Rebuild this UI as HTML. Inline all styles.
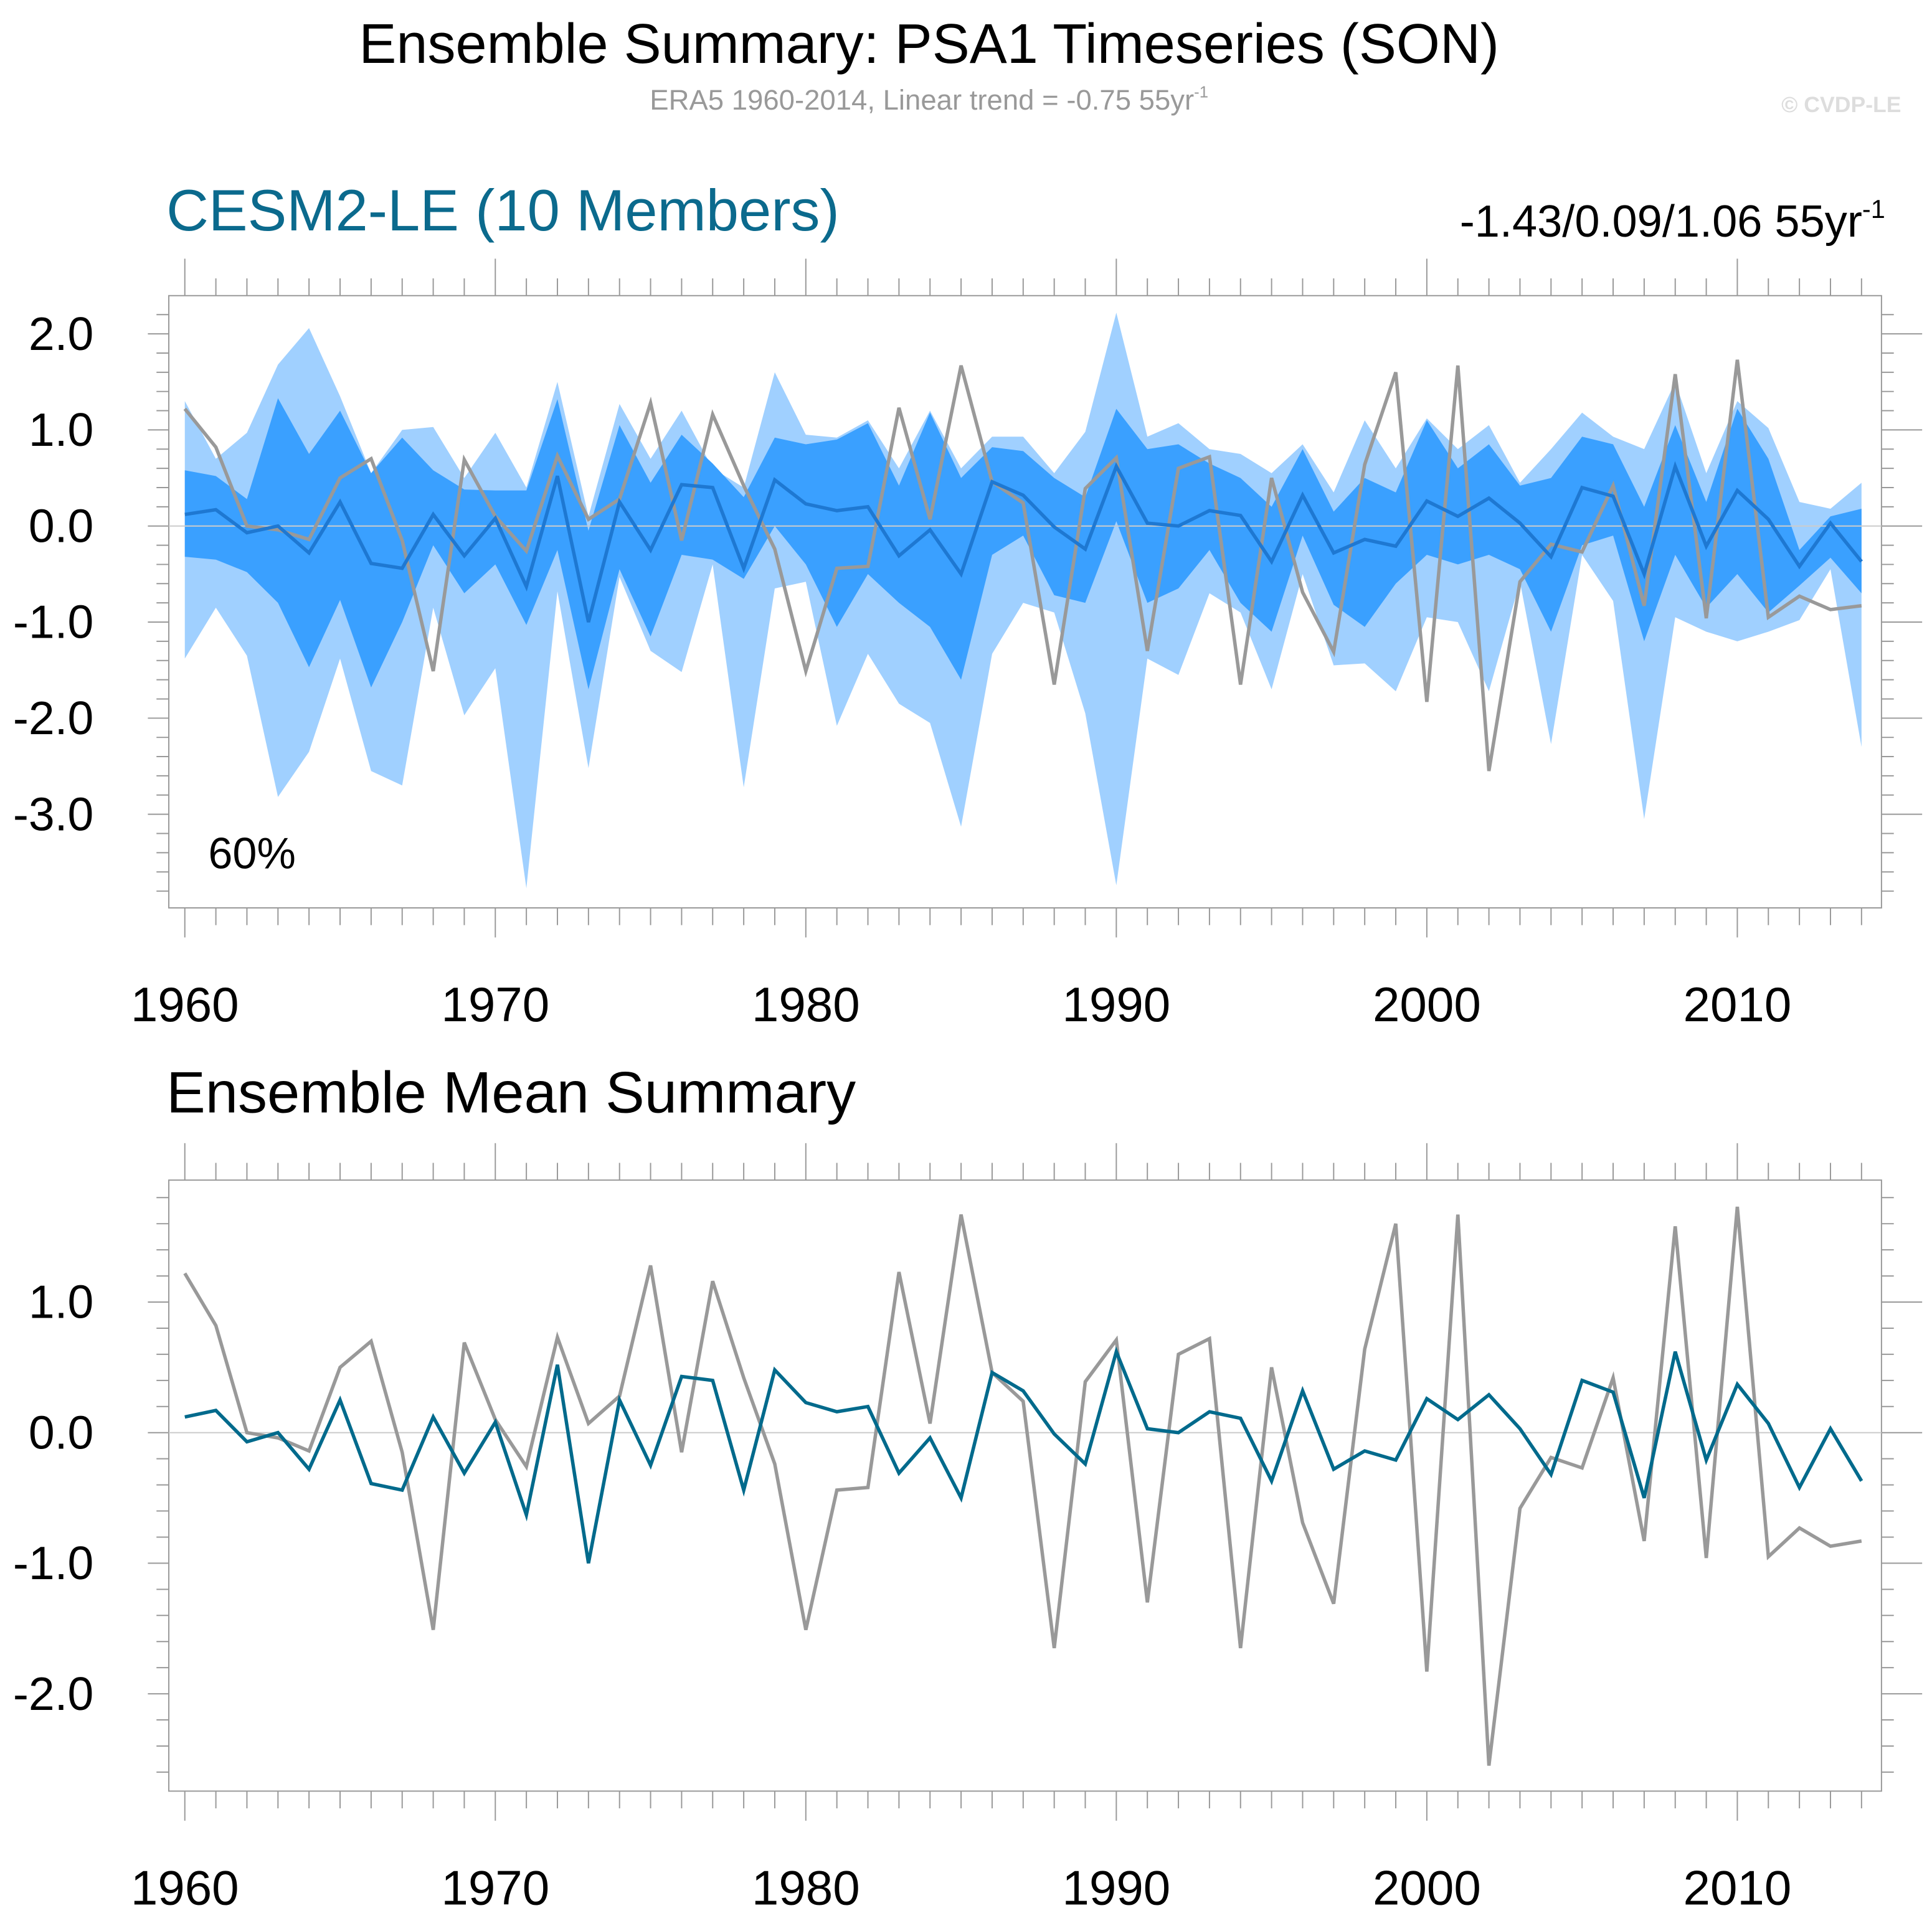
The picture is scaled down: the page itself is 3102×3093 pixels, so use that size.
<!DOCTYPE html>
<html><head><meta charset="utf-8"><style>
html,body{margin:0;padding:0;background:#fff}
svg{display:block;font-family:"Liberation Sans",sans-serif}
</style></head><body>
<svg id="chart" width="3102" height="3093" viewBox="0 0 1568 1563.5" preserveAspectRatio="none" xmlns="http://www.w3.org/2000/svg">
<text x="754" y="51" font-size="45.5" text-anchor="middle" fill="#000">Ensemble Summary: PSA1 Timeseries (SON)</text>
<text x="754" y="89" font-size="23" text-anchor="middle" fill="#999">ERA5 1960-2014, Linear trend = -0.75 55yr<tspan font-size="13" dy="-10">-1</tspan></text>
<text x="1543" y="91" font-size="18" font-weight="bold" text-anchor="end" fill="#ddd">© CVDP-LE</text>
<text x="135" y="187" font-size="47.5" fill="#0b6a8d">CESM2-LE (10 Members)</text>
<text x="1530" y="192" font-size="36.5" text-anchor="end" fill="#000">-1.43/0.09/1.06 55yr<tspan font-size="21" dy="-15">-1</tspan></text>
<text x="135" y="903" font-size="47.5" fill="#000">Ensemble Mean Summary</text>
<g id="p1"></g>
<g id="p2"></g>
</svg>
<script>
const years=[];for(let y=1960;y<=2014;y++)years.push(y);
const era5=[1.22,0.82,0.0,-0.04,-0.14,0.50,0.70,-0.15,-1.51,0.69,0.10,-0.26,0.73,0.07,0.28,1.28,-0.15,1.16,0.42,-0.24,-1.51,-0.44,-0.42,1.23,0.07,1.67,0.46,0.24,-1.65,0.39,0.71,-1.30,0.60,0.72,-1.65,0.50,-0.69,-1.31,0.64,1.60,-1.83,1.67,-2.55,-0.58,-0.19,-0.27,0.42,-0.83,1.58,-0.96,1.73,-0.95,-0.73,-0.87,-0.83];
const ensMean=[0.12,0.17,-0.07,0.0,-0.28,0.25,-0.39,-0.44,0.12,-0.31,0.08,-0.63,0.52,-1.0,0.25,-0.25,0.43,0.40,-0.44,0.48,0.23,0.16,0.20,-0.31,-0.04,-0.50,0.46,0.32,-0.01,-0.24,0.62,0.03,0.0,0.16,0.11,-0.37,0.32,-0.28,-0.14,-0.21,0.26,0.10,0.29,0.03,-0.32,0.40,0.31,-0.50,0.62,-0.21,0.37,0.07,-0.42,0.03,-0.37];
const ensMax=[1.3,0.7,0.97,1.68,2.06,1.35,0.55,1.0,1.03,0.5,0.97,0.4,1.5,0.1,1.27,0.7,1.2,0.6,0.4,1.6,0.95,0.92,1.1,0.6,1.2,0.6,0.93,0.93,0.55,0.98,2.22,0.93,1.07,0.8,0.75,0.55,0.85,0.35,1.1,0.6,1.12,0.8,1.05,0.45,0.8,1.18,0.93,0.8,1.5,0.55,1.3,1.02,0.25,0.18,0.45];
const ensMin=[-1.38,-0.85,-1.35,-2.82,-2.35,-1.38,-2.55,-2.7,-0.85,-1.97,-1.48,-3.77,-0.68,-2.52,-0.53,-1.3,-1.52,-0.4,-2.72,-0.65,-0.58,-2.08,-1.33,-1.85,-2.05,-3.13,-1.33,-0.8,-0.9,-1.95,-3.74,-1.38,-1.55,-0.7,-0.9,-1.7,-0.5,-1.45,-1.43,-1.72,-0.95,-1.0,-1.72,-0.58,-2.27,-0.3,-0.78,-3.05,-0.95,-1.1,-1.2,-1.1,-0.98,-0.45,-2.3];
const bandHi=[0.58,0.52,0.28,1.33,0.75,1.2,0.55,0.92,0.58,0.38,0.37,0.37,1.32,-0.05,1.05,0.45,0.95,0.65,0.3,0.92,0.85,0.9,1.07,0.42,1.18,0.5,0.82,0.78,0.5,0.3,1.22,0.8,0.85,0.65,0.5,0.2,0.8,0.15,0.5,0.35,1.1,0.6,0.85,0.42,0.5,0.93,0.85,0.2,1.05,0.25,1.22,0.7,-0.25,0.1,0.18];
const bandLo=[-0.32,-0.35,-0.48,-0.8,-1.47,-0.77,-1.68,-1.0,-0.2,-0.7,-0.4,-1.03,-0.25,-1.7,-0.45,-1.15,-0.3,-0.35,-0.55,0.0,-0.4,-1.05,-0.5,-0.8,-1.05,-1.6,-0.3,-0.1,-0.72,-0.8,0.05,-0.8,-0.65,-0.25,-0.8,-1.1,-0.1,-0.82,-1.05,-0.6,-0.3,-0.4,-0.3,-0.45,-1.1,-0.2,-0.1,-1.2,-0.3,-0.85,-0.5,-0.9,-0.62,-0.33,-0.7];
const xTicks=[1960,1970,1980,1990,2000,2010];
const yTicks1=[2,1,0,-1,-2,-3];
const yTicks2=[1,0,-1,-2];
const NS="http://www.w3.org/2000/svg";
function mk(parent,tag,attrs){const e=document.createElementNS(NS,tag);for(const k in attrs)e.setAttribute(k,attrs[k]);parent.appendChild(e);return e;}
const X0=137,X1=1527;
const xs=y=>150+(y-1960)*25.2;
function axes(g,top,bot,ys,yTicks,vmin,vmax){
  const box=mk(g,'rect',{x:X0,y:top,width:X1-X0,height:bot-top,fill:'none',stroke:'#999','stroke-width':1});
  
  
  const z=mk(g,'line',{x1:X0,x2:X1,y1:ys(0),y2:ys(0),stroke:'#ccc','stroke-width':1});
  
  
  for(let y=1960;y<=2014;y++){
    const maj=(y%10===0), x=xs(y);
    mk(g,'line',{x1:x,x2:x,y1:top,y2:top-(maj?30:14),stroke:'#999','stroke-width':1});
    mk(g,'line',{x1:x,x2:x,y1:bot,y2:bot+(maj?24:14),stroke:'#999','stroke-width':1});
  }
  for(let v=Math.ceil(vmin*5)/5;v<=vmax+1e-9;v+=0.2){
    const vv=Math.round(v*10)/10, maj=Math.abs(vv-Math.round(vv))<1e-6, y=ys(vv);
    mk(g,'line',{x1:X0,x2:X0-(maj?17:10),y1:y,y2:y,stroke:'#999','stroke-width':1});
    mk(g,'line',{x1:X1,x2:X1+(maj?33:10),y1:y,y2:y,stroke:'#999','stroke-width':1});
  }
  yTicks.forEach(v=>{
    const t=mk(g,'text',{x:76,y:ys(v)+13,'font-size':38,'text-anchor':'end',fill:'#000'});
    t.textContent=v.toFixed(1);
    
    
  });
  xTicks.forEach(v=>{
    const t=mk(g,'text',{x:xs(v),y:bot+92,'font-size':39.5,'text-anchor':'middle',fill:'#000'});
    t.textContent=v;
    
    
  });
}
function line(g,arr,ys,color,w,name){
  const p=mk(g,'polyline',{points:arr.map((v,i)=>xs(years[i])+','+ys(v)).join(' '),fill:'none',stroke:color,'stroke-width':w,'stroke-linejoin':'miter'});
  
  
}
function area(g,hi,lo,ys,color,name){
  const pts=hi.map((v,i)=>xs(years[i])+','+ys(v)).concat(lo.map((v,i)=>xs(years[i])+','+ys(v)).reverse());
  const p=mk(g,'polygon',{points:pts.join(' '),fill:color,stroke:'none'});
  
  
}
const g1=document.getElementById('p1');
const ys1=v=>427-v*78;
area(g1,ensMax,ensMin,ys1,'#a0d0ff','ensemble-min-max-envelope');
area(g1,bandHi,bandLo,ys1,'#3aa0ff','ensemble-inner-band');
axes(g1,240,737,ys1,yTicks1,-3.96,2.39);
line(g1,era5,ys1,'#999',2.8,'era5-line');
line(g1,ensMean,ys1,'#1e78d2',2.8,'ensemble-mean-line');
const pct=mk(g1,'text',{x:169,y:705,'font-size':35.5,fill:'#000'});pct.textContent='60%';


const g2=document.getElementById('p2');
const ys2=v=>1163-v*106;
axes(g2,958,1454,ys2,yTicks2,-2.74,1.93);
line(g2,era5,ys2,'#999',2.8,'era5-line');
line(g2,ensMean,ys2,'#006a8c',2.8,'ensemble-mean-line');
</script>
</body></html>
